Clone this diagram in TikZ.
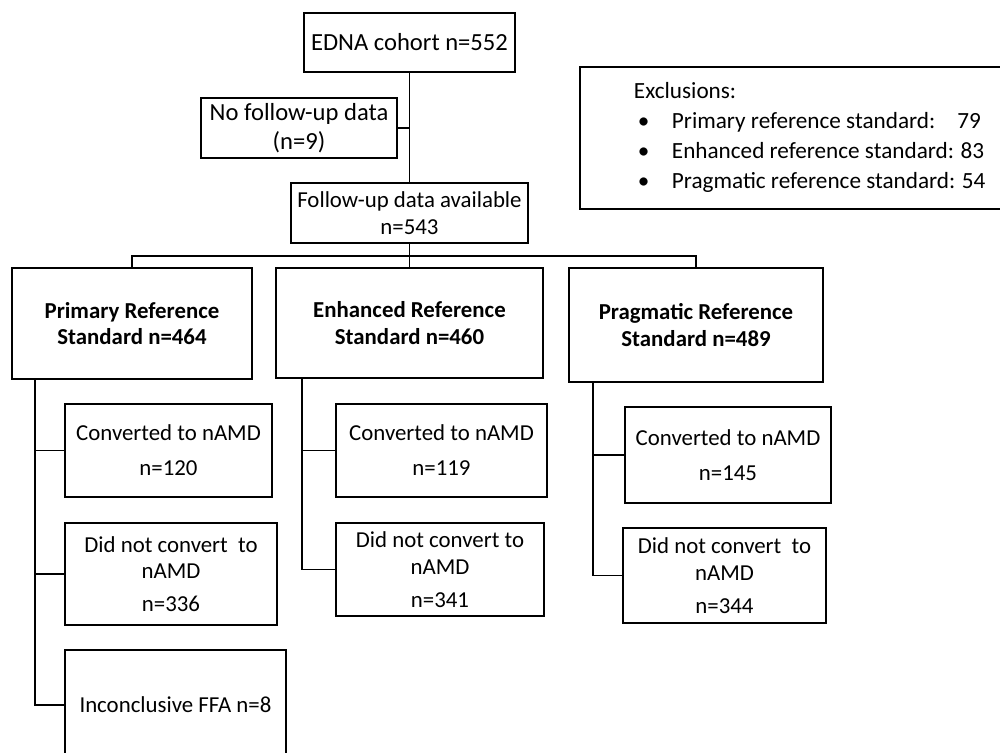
\documentclass[tikz,border=0pt]{standalone}
\usepackage{fontspec}
\setmainfont{Carlito}
\begin{document}
\begin{tikzpicture}[x=0.02cm, y=-0.02cm, line width=1.1pt,
        box/.style={draw, align=center, inner sep=2pt, font=\fontsize{13}{15}\selectfont},
        big/.style={font=\fontsize{14}{16.5}\selectfont},
        head/.style={font=\fontsize{13}{15}\selectfont\bfseries}]
        \clip (0,0) rectangle (1000,752);
        % cohort and follow-up
        \node[box, big, minimum width=4.22cm, minimum height=1.18cm] (edna) at (409.5,42.5) {EDNA cohort n=552};
        \node[box, big, minimum width=3.92cm, minimum height=1.2cm] (nofu) at (299,128) {No follow-up data\\(n=9)};
        \node[box, minimum width=4.74cm, minimum height=1.2cm] (fu) at (409.5,213) {Follow-up data available\\n=543};
        \node[box, minimum width=8.64cm, minimum height=2.84cm] (excl) at (796,138) {};
        \node[anchor=north west, align=left, inner sep=0pt, font=\fontsize{13.2}{17.1}\selectfont] (excltxt) at (633,81)
            {Exclusions:\\
             \makebox[0.76cm][l]{\hspace{0.08cm}\textbullet}Primary reference standard:\hspace{0.44cm}79\\
             \makebox[0.76cm][l]{\hspace{0.08cm}\textbullet}Enhanced reference standard:\hspace{0.13cm}83\\
             \makebox[0.76cm][l]{\hspace{0.08cm}\textbullet}Pragmatic reference standard:\hspace{0.13cm}54};
        % the three reference standards
        \node[box, head, minimum width=4.8cm, minimum height=2.22cm] (prim) at (132,323.5) {Primary Reference\\Standard n=464};
        \node[box, head, minimum width=5.34cm, minimum height=2.2cm] (enh) at (409.5,323) {Enhanced Reference\\Standard n=460};
        \node[box, head, minimum width=5.08cm, minimum height=2.28cm] (prag) at (696,325) {Pragmatic Reference\\Standard n=489};
        % outcomes
        \node[box, minimum width=4.14cm, minimum height=1.86cm] (pconv) at (168.5,450.5) {Converted to nAMD\\[4.9pt]n=120};
        \node[box, minimum width=4.24cm, minimum height=2.04cm] (pnot) at (171,574) {Did not convert\ \ to\\nAMD\\[3.8pt]n=336};
        \node[box, minimum width=4.42cm, minimum height=2.2cm] (pinc) at (175.5,705) {Inconclusive FFA n=8};
        \node[box, minimum width=4.22cm, minimum height=1.86cm] (econv) at (441.5,450.5) {Converted to nAMD\\[4.9pt]n=119};
        \node[box, minimum width=4.16cm, minimum height=1.86cm] (enot) at (440,569.5) {Did not convert to\\nAMD\\[3.8pt]n=341};
        \node[box, minimum width=4.12cm, minimum height=1.92cm] (gconv) at (728,455) {Converted to nAMD\\[4.9pt]n=145};
        \node[box, minimum width=4.06cm, minimum height=1.9cm] (gnot) at (724.5,575.5) {Did not convert\ \ to\\nAMD\\[3.8pt]n=344};
        % connectors
        \coordinate (bus) at (409.5,256);
        \draw (edna.south) -- (fu.north);
        \draw (nofu.east) -- (nofu.east -| edna.south);
        \draw (fu.south) -- (enh.north);
        \draw (prim.north) |- (bus) -| (prag.north);
        \draw ([xshift=0.48cm]prim.south west) |- (pconv.west);
        \draw ([xshift=0.48cm]prim.south west) |- (pnot.west);
        \draw ([xshift=0.48cm]prim.south west) |- (pinc.west);
        \draw ([xshift=0.54cm]enh.south west) |- (econv.west);
        \draw ([xshift=0.54cm]enh.south west) |- (enot.west);
        \draw ([xshift=0.5cm]prag.south west) |- (gconv.west);
        \draw ([xshift=0.5cm]prag.south west) |- (gnot.west);
    \end{tikzpicture}
\end{document}
